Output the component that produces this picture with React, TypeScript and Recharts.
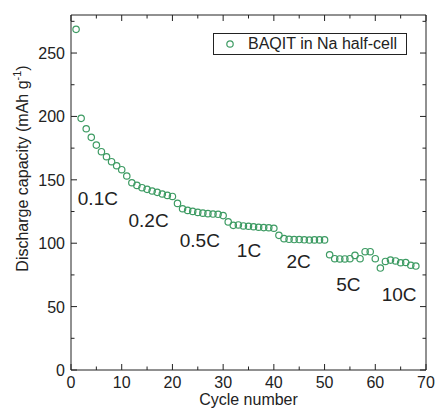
import React from "react";
import { ScatterChart, Scatter, XAxis, YAxis, ReferenceDot, Legend } from "recharts";

const cycles = [
  1, 2, 3, 4, 5, 6, 7, 8, 9, 10, 11, 12, 13, 14, 15, 16, 17, 18, 19, 20,
  21, 22, 23, 24, 25, 26, 27, 28, 29, 30, 31, 32, 33, 34, 35, 36, 37, 38, 39, 40,
  41, 42, 43, 44, 45, 46, 47, 48, 49, 50, 51, 52, 53, 54, 55, 56, 57, 58, 59, 60,
  61, 62, 63, 64, 65, 66, 67, 68,
];
const capacity = [
  268.7, 198.5, 190.3, 183.5, 177.4, 172.2, 168.2, 164.3, 161.1, 158, 153, 147.7, 145.6, 143.8, 142.5, 141.2, 140.1, 138.8, 137.7, 136.9,
  131.4, 127.2, 125.9, 125.1, 124.3, 123.7, 123.3, 123, 122.8, 121.8, 116.8, 114.1, 114.4, 113.6, 113.4, 113, 112.6, 112.3, 112.2, 111.8,
  106.2, 103.6, 103.1, 102.9, 102.9, 102.7, 102.5, 102.6, 102.6, 102.6, 90.9, 87.8, 87.6, 87.6, 87.8, 90.4, 87.8, 93.3, 93.3, 87.8,
  80.4, 85.6, 86.7, 86, 84.6, 84.8, 82.6, 82,
];

// rate labels placed in data units
const rateNames = ["0.1C", "0.2C", "0.5C", "1C", "2C", "5C", "10C"];
const rateX = [5.3, 15.3, 25.4, 35.1, 44.9, 54.7, 64.7];
const rateY = [135.6, 118.3, 102.5, 94.2, 85.6, 67.8, 60];

const xTicks = [0, 5, 10, 15, 20, 25, 30, 35, 40, 45, 50, 55, 60, 65, 70];
const yTicks = [0, 25, 50, 75, 100, 125, 150, 175, 200, 225, 250, 275];

const seriesName = "BAQIT in Na half-cell";
const green = "#3d9b63";
const ink = "#222";
const font = "'Liberation Sans', Arial, sans-serif";

const data = cycles.map((c, i) => ({ cycle: c, cap: capacity[i] }));

const Dot = (props: any) => (
  <circle cx={props.cx} cy={props.cy} r={3.2} fill="none" stroke={green} strokeWidth={1.2} />
);
const NoDot = () => <g />;

const tickLen = (v: number, step: number) => (v % step === 0 ? 6 : 3.5);

const BottomTick = (props: any) => {
  const { x, y, payload } = props;
  const v = payload.value;
  const major = v % 10 === 0;
  return (
    <g>
      <line x1={x} x2={x} y1={y} y2={y - tickLen(v, 10)} stroke={ink} />
      {major && (
        <text x={x} y={y + 18} textAnchor="middle" fontSize={16} fontFamily={font} fill={ink}>
          {v}
        </text>
      )}
    </g>
  );
};
const TopTick = (props: any) => {
  const { x, y, payload } = props;
  return <line x1={x} x2={x} y1={y} y2={y + tickLen(payload.value, 10)} stroke={ink} />;
};
const LeftTick = (props: any) => {
  const { x, y, payload } = props;
  const v = payload.value;
  const major = v % 50 === 0;
  return (
    <g>
      <line x1={x} x2={x + tickLen(v, 50)} y1={y} y2={y} stroke={ink} />
      {major && (
        <text x={x - 6} y={y + 6} textAnchor="end" fontSize={16} fontFamily={font} fill={ink}>
          {v}
        </text>
      )}
    </g>
  );
};
const RightTick = (props: any) => {
  const { x, y, payload } = props;
  return <line x1={x} x2={x - tickLen(payload.value, 50)} y1={y} y2={y} stroke={ink} />;
};

// the title sits a bit above the axis middle in the original
const YLabel = (props: any) => {
  const vb = props.viewBox;
  const cy = vb.y + vb.height / 2 - 24;
  return (
    <text x={28} y={cy} transform={`rotate(-90, 28, ${cy})`} textAnchor="middle" fontSize={16} fontFamily={font} fill={ink}>
      Discharge capacity (mAh g
      <tspan fontSize={11} dy={-7}>-1</tspan>
      <tspan dy={7}>)</tspan>
    </text>
  );
};

const LegendBox = () => (
  <div
    style={{
      border: `1px solid ${ink}`,
      width: 192,
      height: 20,
      display: "flex",
      alignItems: "center",
      fontFamily: font,
      fontSize: 16,
      color: ink,
      background: "#fff",
      boxSizing: "content-box",
    }}
  >
    <svg width={34} height={20}>
      <circle cx={16} cy={10} r={3.2} fill="none" stroke={green} strokeWidth={1.2} />
    </svg>
    <span>{seriesName}</span>
  </div>
);

export default function App() {
  return (
    <div style={{ position: "absolute", left: 0, top: 0, background: "#fff" }}>
      <ScatterChart width={436} height={409} margin={{ top: 0, right: 0, bottom: 0, left: 0 }}>
        <XAxis
          dataKey="cycle"
          type="number"
          domain={[0, 70]}
          ticks={xTicks}
          interval={0}
          height={39}
          tickSize={0}
          tickMargin={0}
          tick={BottomTick}
          stroke={ink}
          label={{ value: "Cycle number", position: "insideBottom", offset: 4, fontSize: 16, fontFamily: font, fill: ink }}
        />
        <XAxis
          xAxisId="top"
          dataKey="cycle"
          orientation="top"
          type="number"
          domain={[0, 70]}
          ticks={xTicks}
          interval={0}
          height={15}
          tickSize={0}
          tickMargin={0}
          tick={TopTick}
          stroke={ink}
        />
        <YAxis
          dataKey="cap"
          type="number"
          domain={[0, 280]}
          ticks={yTicks}
          interval={0}
          width={71}
          tickSize={0}
          tickMargin={0}
          tick={LeftTick}
          stroke={ink}
          label={<YLabel />}
        />
        <YAxis
          yAxisId="right"
          dataKey="cap"
          orientation="right"
          type="number"
          domain={[0, 280]}
          ticks={yTicks}
          interval={0}
          width={10}
          tickSize={0}
          tickMargin={0}
          tick={RightTick}
          stroke={ink}
        />
        <Legend
          content={<LegendBox />}
          layout="vertical"
          verticalAlign="middle"
          align="center"
          wrapperStyle={{ left: 213, top: 33, width: 196 }}
        />
        <Scatter name={seriesName} data={data} shape={Dot} isAnimationActive={false} />
        <Scatter
          xAxisId="top"
          yAxisId="right"
          data={data}
          shape={NoDot}
          legendType="none"
          isAnimationActive={false}
        />
        {rateNames.map((n, i) => (
          <ReferenceDot
            key={n}
            x={rateX[i]}
            y={rateY[i]}
            r={0}
            stroke="none"
            fill="none"
            label={{ value: n, position: "center", fontSize: 19, fontFamily: font, fill: ink }}
          />
        ))}
      </ScatterChart>
    </div>
  );
}
